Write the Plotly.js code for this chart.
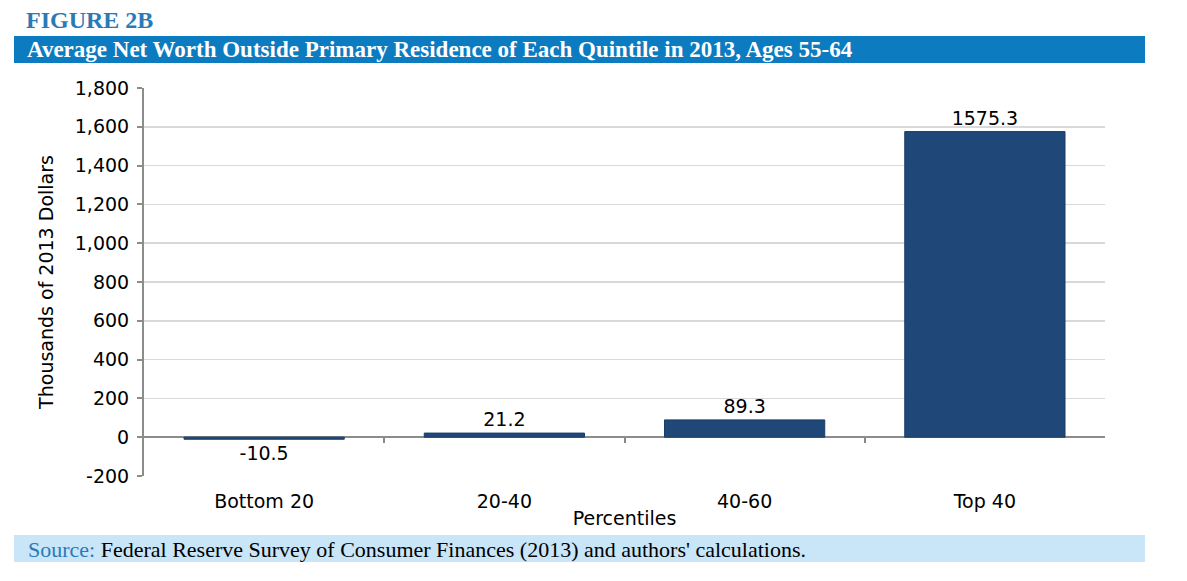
<!DOCTYPE html>
<html>
<head>
<meta charset="utf-8">
<script src="https://cdn.plot.ly/plotly-3.0.1.min.js"></script>
<style>html,body{margin:0;padding:0;background:#fff;}#chart{width:1187px;height:581px;}</style>
</head>
<body>
<div id="chart"></div>
<script>
const categories = ["Bottom 20", "20-40", "40-60", "Top 40"];
const values = [-10.5, 21.2, 89.3, 1575.3];
const valueLabels = ["-10.5", "21.2", "89.3", "1575.3"];
const yTickVals = [-200, 0, 200, 400, 600, 800, 1000, 1200, 1400, 1600, 1800];
const yTickText = ["-200", "0", "200", "400", "600", "800", "1,000", "1,200", "1,400", "1,600", "1,800"];
const boundaryTicks = [0.5, 1.5, 2.5];

const W = 1187, H = 581;
const m = {l: 144, r: 82, t: 88, b: 105};
const pw = W - m.l - m.r, ph = H - m.t - m.b;
const px = x => (x - m.l) / pw;
const py = y => (H - m.b - y) / ph;

const chartFont = "DejaVu Sans, Verdana, sans-serif";
const serif = "Liberation Serif, Times New Roman, serif";
const fs = 19;

const trace = {
  type: "bar",
  x: categories,
  y: values,
  text: valueLabels,
  textposition: "outside",
  cliponaxis: false,
  textfont: {family: chartFont, size: fs, color: "#000"},
  marker: {color: "#1f4778", line: {color: "#1a3d69", width: 1}},
  width: 0.667,
  hoverinfo: "x+y"
};

const layout = {
  width: W, height: H,
  margin: m,
  paper_bgcolor: "#fff",
  plot_bgcolor: "#fff",
  showlegend: false,
  font: {family: chartFont, size: fs, color: "#000"},
  xaxis: {
    type: "category",
    categoryarray: categories,
    range: [-0.5, 3.5],
    showgrid: false,
    zeroline: false,
    showline: false,
    ticks: "",
    tickfont: {family: chartFont, size: fs, color: "#000"},
    ticklabelstandoff: 12,
    title: {text: "Percentiles", font: {family: chartFont, size: fs, color: "#000"}, standoff: 0}
  },
  xaxis2: {
    type: "linear",
    overlaying: "x",
    anchor: "free",
    position: 0.1,
    range: [-0.5, 3.5],
    tickvals: boundaryTicks,
    ticks: "outside",
    ticklen: 5,
    tickcolor: "#888",
    tickwidth: 2,
    showticklabels: false,
    showgrid: false,
    zeroline: false,
    showline: false
  },
  yaxis: {
    range: [-200, 1800],
    tickvals: yTickVals,
    ticktext: yTickText,
    showgrid: true,
    gridcolor: "#d9d9d9",
    gridwidth: 1.5,
    zeroline: true,
    zerolinecolor: "#8c8c8c",
    zerolinewidth: 2,
    showline: true,
    linecolor: "#8c8c8c",
    linewidth: 2,
    ticks: "outside",
    ticklen: 5,
    tickcolor: "#8c8c8c",
    tickwidth: 2,
    ticklabelstandoff: 4,
    tickfont: {family: chartFont, size: fs, color: "#000"},
    title: {text: "Thousands of 2013 Dollars", font: {family: chartFont, size: fs, color: "#000"}, standoff: 16}
  },
  shapes: [
    {type: "rect", xref: "paper", yref: "paper", x0: px(14), x1: px(1145), y0: py(63), y1: py(36),
     fillcolor: "#0c7bc0", line: {width: 0}, layer: "below"},
    {type: "rect", xref: "paper", yref: "paper", x0: px(14), x1: px(1145), y0: py(562), y1: py(535),
     fillcolor: "#c9e5f8", line: {width: 0}, layer: "below"}
  ],
  annotations: [
    {xref: "paper", yref: "paper", x: px(24), y: py(20), xanchor: "left", yanchor: "middle", showarrow: false,
     text: "<b>FIGURE 2B</b>", font: {family: serif, size: 24, color: "#2a7ab8"}},
    {xref: "paper", yref: "paper", x: px(25), y: py(50), xanchor: "left", yanchor: "middle", showarrow: false,
     text: "<b>Average Net Worth Outside Primary Residence of Each Quintile in 2013, Ages 55-64</b>",
     font: {family: serif, size: 23, color: "#ffffff"}},
    {xref: "paper", yref: "paper", x: px(26), y: py(549), xanchor: "left", yanchor: "middle", showarrow: false,
     text: "<span style='color:#2a7ab8'>Source:</span> Federal Reserve Survey of Consumer Finances (2013) and authors' calculations.",
     font: {family: serif, size: 22, color: "#000"}}
  ]
};

const tickTrace = {type: "scatter", x: [], y: [], xaxis: "x2", yaxis: "y", hoverinfo: "skip", showlegend: false};

Plotly.newPlot("chart", [trace, tickTrace], layout, {displayModeBar: false, staticPlot: true});
</script>
</body>
</html>
